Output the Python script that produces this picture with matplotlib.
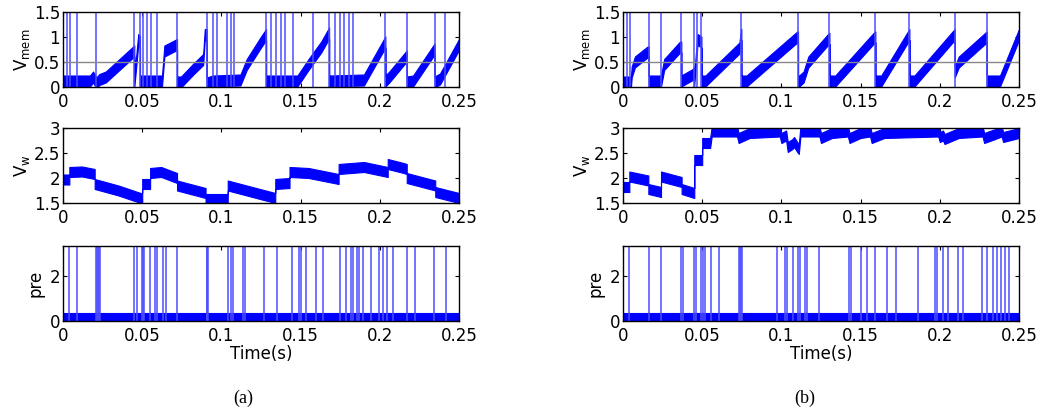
import matplotlib
matplotlib.use("Agg")
import matplotlib.pyplot as plt
from matplotlib.ticker import FormatStrFormatter
import numpy as np

# ---------------- data ----------------
xticks = [0, 0.05, 0.1, 0.15, 0.2, 0.25]
vmem_ticks = [0, 0.5, 1, 1.5]
vw_ticks = [1.5, 2, 2.5, 3]
pre_ticks = [0, 2]
vmem_threshold = 0.5

# (a) membrane potential: knot times / centre values
a_vmem_t = [0, 0.017, 0.019, 0.021, 0.023, 0.027, 0.045, 0.045, 0.0475, 0.0486, 0.0486,
            0.0625, 0.064, 0.072, 0.072, 0.0745, 0.082, 0.0885, 0.0895, 0.0907, 0.0907,
            0.0945, 0.112, 0.116, 0.124, 0.1282, 0.1282, 0.148, 0.155, 0.163, 0.168, 0.168,
            0.19, 0.2035, 0.2035, 0.206, 0.217, 0.217, 0.221, 0.2346, 0.2346, 0.238, 0.25]
a_vmem_v = [0.12, 0.12, 0.2, 0.08, 0.15, 0.2, 0.72, 0.1, 0.95, 0.9, 0.12,
            0.12, 0.72, 0.85, 0.1, 0.1, 0.35, 0.55, 1.05, 1.05, 0.08,
            0.12, 0.14, 0.45, 0.85, 1.05, 0.12, 0.12, 0.45, 0.8, 1.08, 0.12,
            0.14, 0.9, 0.12, 0.2, 0.62, 0.1, 0.12, 0.76, 0.1, 0.16, 0.85]
a_vmem_spikes = [0.0027, 0.0044, 0.0086, 0.0208, 0.0448, 0.0486, 0.0507, 0.0532, 0.0553,
                 0.0591, 0.0718, 0.0907, 0.0945, 0.0974, 0.1033, 0.1058, 0.1080, 0.1282,
                 0.1315, 0.1345, 0.1378, 0.1399, 0.1454, 0.1580, 0.1681, 0.1715, 0.1749,
                 0.1774, 0.1803, 0.1833, 0.2035, 0.2170, 0.2346, 0.2412]

# (a) synaptic weight voltage
a_vw_t = [0, 0.004, 0.004, 0.012, 0.02, 0.02, 0.035, 0.049, 0.05, 0.05, 0.055, 0.055,
          0.062, 0.072, 0.072, 0.09, 0.09, 0.104, 0.104, 0.134, 0.134, 0.143, 0.143,
          0.155, 0.174, 0.174, 0.19, 0.205, 0.205, 0.215, 0.217, 0.217, 0.235, 0.235, 0.25]
a_vw_v = [1.97, 1.97, 2.12, 2.13, 2.08, 1.88, 1.75, 1.6, 1.6, 1.88, 1.88, 2.1,
          2.12, 2.0, 1.85, 1.7, 1.58, 1.58, 1.85, 1.6, 1.88, 1.9, 2.12,
          2.1, 1.98, 2.18, 2.22, 2.12, 2.28, 2.2, 2.18, 2.0, 1.85, 1.72, 1.6]

# (a) presynaptic spikes
a_pre_spikes = [0.0036, 0.0086, 0.0208, 0.0214, 0.0220, 0.0227, 0.0234, 0.0448, 0.0469,
                0.0501, 0.0506, 0.0511, 0.0549, 0.0581, 0.0596, 0.0629, 0.0650, 0.0722,
                0.0907, 0.0911, 0.0915, 0.1044, 0.1058, 0.1075, 0.1134, 0.1151, 0.1269,
                0.1353, 0.1446, 0.1488, 0.1500, 0.1534, 0.1597, 0.1639, 0.1749, 0.1787,
                0.1820, 0.1833, 0.1854, 0.1871, 0.1892, 0.1942, 0.1997, 0.2018, 0.2043,
                0.2085, 0.2170, 0.2224, 0.2342, 0.2418]

# (b) membrane potential
b_vmem_t = [0, 0.005, 0.0055, 0.0075, 0.0155, 0.0162, 0.0162, 0.024, 0.026, 0.036, 0.0368,
            0.0368, 0.044, 0.0448, 0.0448, 0.047, 0.0495, 0.0495, 0.052, 0.0735, 0.0745,
            0.0747, 0.0747, 0.078, 0.110, 0.1105, 0.1105, 0.114, 0.117, 0.130, 0.1303,
            0.1303, 0.134, 0.159, 0.1593, 0.1593, 0.163, 0.1808, 0.1808, 0.184, 0.2094,
            0.2094, 0.212, 0.2296, 0.2296, 0.238, 0.25]
b_vmem_v = [0.1, 0.1, 0.3, 0.5, 0.7, 0.7, 0.12, 0.12, 0.45, 0.8, 0.8,
            0.12, 0.25, 0.3, 0.08, 0.95, 0.9, 0.12, 0.12, 0.78, 1.05,
            1.05, 0.12, 0.12, 1.0, 1.0, 0.1, 0.2, 0.5, 0.97, 0.97,
            0.12, 0.12, 1.0, 1.0, 0.12, 0.12, 1.05, 0.12, 0.12, 1.05,
            0.3, 0.5, 1.0, 0.12, 0.12, 1.05]
b_vmem_spikes = [0.0027, 0.0044, 0.0162, 0.0238, 0.0368, 0.0448, 0.0465, 0.0495, 0.0747,
                 0.1105, 0.1303, 0.1593, 0.1808, 0.2094, 0.2296]

# (b) synaptic weight voltage
b_vw_t = [0, 0.004, 0.004, 0.016, 0.016, 0.024, 0.024, 0.037, 0.037, 0.045, 0.045, 0.050,
          0.050, 0.055, 0.056, 0.072, 0.073, 0.08, 0.099, 0.100, 0.103, 0.104, 0.107,
          0.108, 0.110, 0.111, 0.112, 0.124, 0.125, 0.132, 0.142, 0.143, 0.15, 0.156,
          0.157, 0.165, 0.199, 0.200, 0.202, 0.203, 0.212, 0.227, 0.228, 0.235, 0.239,
          0.240, 0.25]
b_vw_v = [1.82, 1.82, 2.03, 1.95, 1.78, 1.72, 2.03, 1.92, 1.78, 1.7, 2.36, 2.36,
          2.7, 2.7, 2.93, 2.93, 2.8, 2.9, 2.93, 2.8, 2.85, 2.62, 2.68,
          2.72, 2.62, 2.58, 2.93, 2.93, 2.8, 2.9, 2.93, 2.8, 2.9, 2.93,
          2.8, 2.9, 2.93, 2.82, 2.85, 2.78, 2.9, 2.93, 2.8, 2.88, 2.93,
          2.82, 2.9]

# (b) presynaptic spikes
b_pre_spikes = [0.0040, 0.0162, 0.0238, 0.0368, 0.0381, 0.0448, 0.0461, 0.0490, 0.0503,
                0.0516, 0.0553, 0.0608, 0.0730, 0.0737, 0.0744, 0.0751, 0.0970, 0.1021,
                0.1033, 0.1075, 0.1105, 0.1117, 0.1151, 0.1164, 0.1239, 0.1429, 0.1441,
                0.1500, 0.1538, 0.1593, 0.1665, 0.1723, 0.1862, 0.1968, 0.1984, 0.2022,
                0.2052, 0.2115, 0.2149, 0.2266, 0.2300, 0.2338, 0.2363, 0.2384, 0.2410,
                0.2439]

pre_base_t = [0, 0.25]
pre_base_v = [0.18, 0.18]

# ---------------- styling ----------------
plt.rcParams['font.family'] = ['DejaVu Sans']
plt.rcParams['mathtext.fontset'] = 'custom'
plt.rcParams['mathtext.rm'] = 'DejaVu Sans'
FS = 12

W, H = 1049, 408
fig = plt.figure(figsize=(W / 100, H / 100), dpi=100)

BLUE = (0, 0, 1)
SPK = (0.3, 0.3, 1.0)

def make_ax(px_left, px_top):
    return fig.add_axes([px_left / W, 1 - (px_top + 75) / H, 396 / W, 75 / H])

def style(ax, yticks, ylim):
    ax.set_xlim(0, 0.25)
    ax.set_ylim(*ylim)
    ax.set_xticks(xticks)
    ax.set_yticks(yticks)
    ax.xaxis.set_major_formatter(FormatStrFormatter('%g'))
    ax.yaxis.set_major_formatter(FormatStrFormatter('%g'))
    ax.tick_params(direction='in', top=True, right=True, length=3, width=0.8,
                   labelsize=FS)
    ax.tick_params(axis='x', pad=4)
    ax.tick_params(axis='y', pad=2)
    for s in ax.spines.values():
        s.set_linewidth(1.0)
        s.set_zorder(5)

def band(ax, t, v, hw):
    t = np.asarray(t); v = np.asarray(v)
    ax.fill_between(t, v - hw, v + hw, color=BLUE, lw=0.8, edgecolor=BLUE, zorder=2)

panels = [
    (63, a_vmem_t, a_vmem_v, a_vmem_spikes, a_vw_t, a_vw_v, a_pre_spikes, 243, '(a)'),
    (623, b_vmem_t, b_vmem_v, b_vmem_spikes, b_vw_t, b_vw_v, b_pre_spikes, 805, '(b)'),
]

for left, vt, vv, vsp, wt, wv, psp, capx, cap in panels:
    # membrane potential
    ax1 = make_ax(left, 12)
    band(ax1, vt, vv, 0.11)
    ax1.vlines(vsp, 0, 2.0, color=SPK, lw=1.1, zorder=3)
    ax1.axhline(vmem_threshold, color='#888888', lw=1.0, zorder=4)
    style(ax1, vmem_ticks, (0, 1.5))
    ax1.set_ylabel(r'V$_{\rm mem}$', fontsize=FS, labelpad=1)

    # weight voltage
    ax2 = make_ax(left, 128)
    band(ax2, wt, wv, 0.1)
    style(ax2, vw_ticks, (1.5, 3))
    ax2.set_ylabel(r'V$_{\rm w}$', fontsize=FS, labelpad=1)

    # presynaptic spikes
    ax3 = make_ax(left, 246)
    band(ax3, pre_base_t, pre_base_v, 0.18)
    ax3.vlines(psp, 0, 3.5, color=SPK, lw=1.1, zorder=3)
    style(ax3, pre_ticks, (0, 3.3))
    ax3.set_ylabel('pre', fontsize=FS, labelpad=4)
    ax3.set_xlabel('Time(s)', fontsize=FS, labelpad=0)

    fig.text(capx / W, 1 - 398 / H, cap, ha='center', va='center',
             fontsize=13, family='Liberation Serif')

fig.savefig('out.png', dpi=100)
